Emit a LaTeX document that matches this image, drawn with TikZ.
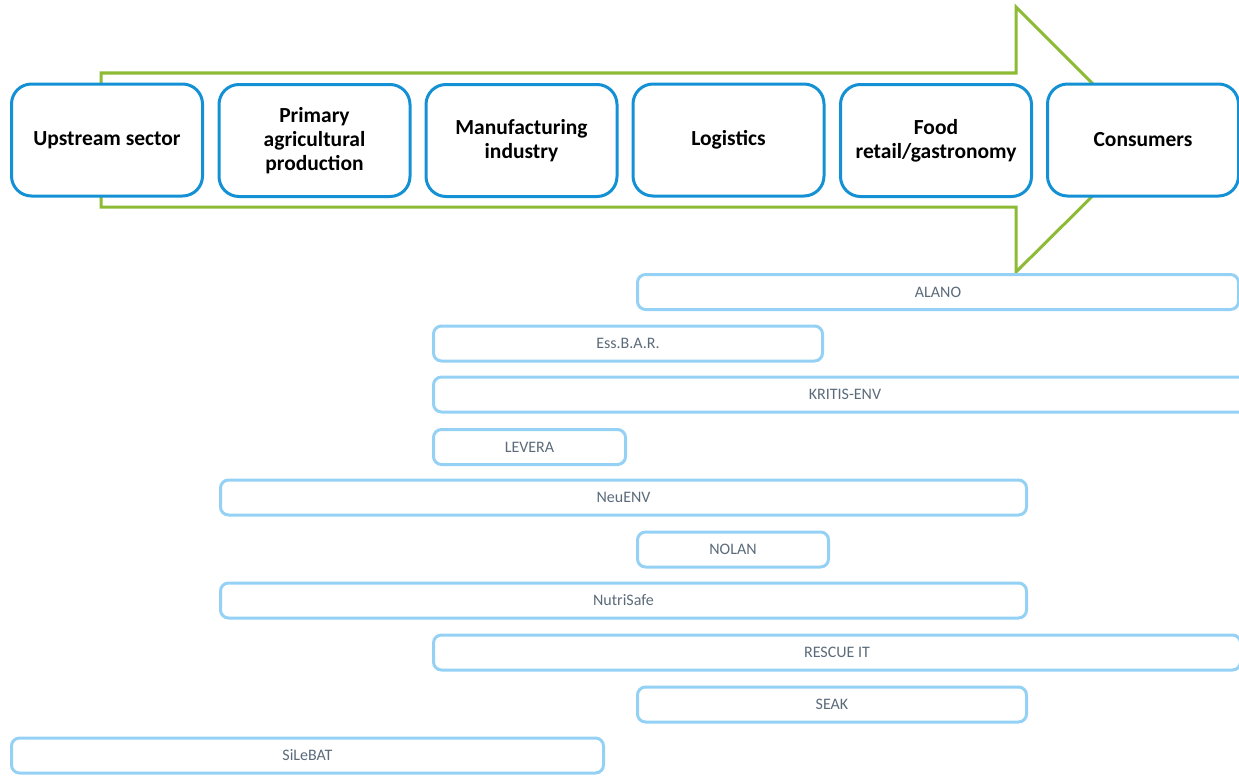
\documentclass[tikz,border=0pt]{standalone}
\usepackage{fontspec}
\setmainfont{Carlito}
\definecolor{arrowgreen}{HTML}{8DBB35}
\definecolor{stageblue}{HTML}{1491D5}
\definecolor{projblue}{HTML}{94D1F4}
\definecolor{projtext}{HTML}{5B6B7A}
\tikzset{
  stagebox/.style={draw=stageblue, line width=3pt, fill=white, rounded corners=20pt,
    minimum width=191pt, minimum height=112pt, inner sep=2pt, align=center,
    font=\fontsize{21.5}{24}\selectfont\bfseries, text=black},
  projbox/.style={draw=projblue, line width=3pt, fill=white, rounded corners=8pt,
    minimum height=35pt, inner sep=0pt, font=\fontsize{16}{19}\selectfont, text=projtext},
  flowarrow/.style={draw=arrowgreen, line width=3pt, fill=white, line join=miter}
}
\begin{document}
\begin{tikzpicture}[x=1pt,y=-1pt]
\useasboundingbox (0,0) rectangle (1239,776);
\clip (0,0) rectangle (1239,776);
% green arrow
\coordinate (a1) at (101,73);
\coordinate (a2) at (1016,73);
\coordinate (a3) at (1016,7);
\coordinate (a4) at (1149,140);
\coordinate (a5) at (1016,272);
\coordinate (a6) at (1016,207);
\coordinate (a7) at (101,207);
\draw[flowarrow] (a1) -- (a2) -- (a3) -- (a4) -- (a5) -- (a6) -- (a7) -- cycle;
% stages
\node[stagebox] (s1) at (107,140) {Upstream sector};
\node[stagebox] (s2) at (314.5,140.5) {Primary\\agricultural\\production};
\node[stagebox] (s3) at (521.5,140.5) {Manufacturing\\industry};
\node[stagebox] (s4) at (728.5,140) {Logistics};
\node[stagebox] (s5) at (936,140.5) {Food\\retail/gastronomy};
\node[stagebox] (s6) at (1143,140) {Consumers};
% projects
\node[projbox, minimum width=601pt] (p1) at (938,292) {ALANO};
\node[projbox, minimum width=389pt] (p2) at (628,343.5) {Ess.B.A.R.};
\node[projbox, minimum width=823pt] (p3) at (845,394.5) {KRITIS-ENV};
\node[projbox, minimum width=192pt] (p4) at (529.5,447) {LEVERA};
\node[projbox, minimum width=806pt] (p5) at (623.5,497.5) {NeuENV};
\node[projbox, minimum width=191pt] (p6) at (733,549.5) {NOLAN};
\node[projbox, minimum width=806pt] (p7) at (623.5,600.5) {NutriSafe};
\node[projbox, minimum width=807pt] (p8) at (837,652.5) {RESCUE IT};
\node[projbox, minimum width=389pt] (p9) at (832,704.5) {SEAK};
\node[projbox, minimum width=592pt] (p10) at (307.5,755.5) {SiLeBAT};
\end{tikzpicture}
\end{document}
